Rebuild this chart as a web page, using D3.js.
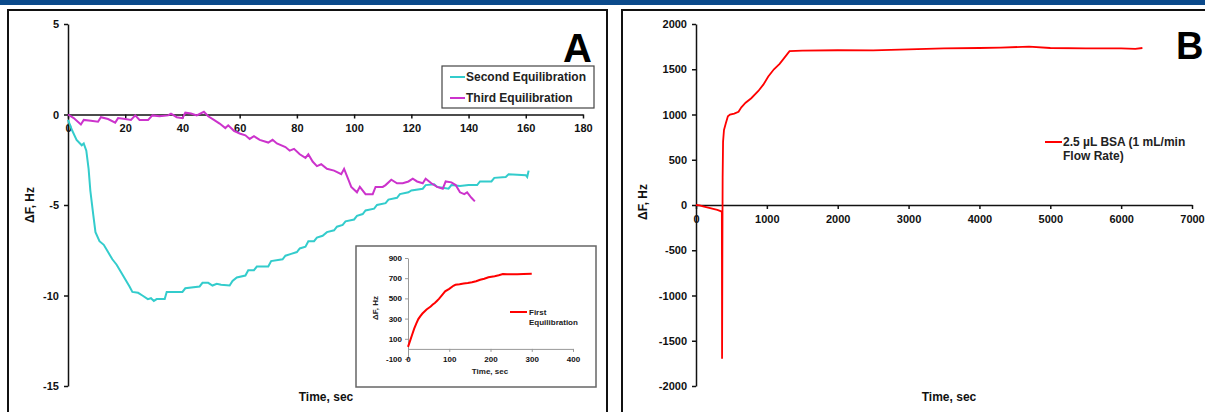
<!DOCTYPE html>
<html>
<head>
<meta charset="utf-8">
<script src="https://cdn.jsdelivr.net/npm/d3@7"></script>
<style>
  body { margin: 0; background: #fff; }
  svg { display: block; font-family: "Liberation Sans", Arial, sans-serif; }
  .axis text { font-size: 11px; font-weight: bold; fill: #111; }
  .axis path, .axis line { stroke: #111; stroke-width: 1.5; }
  .inset text { font-size: 8px; }
  .inset path, .inset line { stroke: #999; stroke-width: 1; }
  .title { font-size: 12px; font-weight: bold; fill: #111; }
  .leg { font-size: 12px; font-weight: bold; fill: #222; }
</style>
</head>
<body>
<svg width="1205" height="412"></svg>
<script>
// panel A - second equilibration (time, sec / delta F, Hz)
const secondT = [0, 1.5, 3, 4.8, 5.5, 6.4, 7.2, 7.8, 8.8, 9.6, 11, 12.5, 14, 15.5, 17, 18.5, 20, 21.5, 22.5, 24.5, 26, 27.9, 29, 30, 31, 33.8, 34.5, 40, 41, 46, 47, 49, 50.5, 52, 53.5, 56.5, 57.5, 59, 62, 63, 65, 66, 70, 71, 75, 76, 78, 80, 81, 83, 84, 86, 87, 89, 90.5, 93, 94, 96, 97, 100, 101, 103, 104, 107, 108, 111, 112, 115, 116, 119, 120, 124, 125, 128, 129, 131, 133, 134, 137, 140, 143, 144, 148, 149, 153, 154, 160, 160.5, 161];
const secondV = [-0.3, -0.9, -1.4, -1.7, -1.6, -2.0, -3.0, -4.2, -5.5, -6.5, -7.0, -7.2, -7.6, -8.0, -8.3, -8.7, -9.1, -9.5, -9.8, -9.85, -10.0, -10.2, -10.15, -10.3, -10.2, -10.2, -9.8, -9.8, -9.6, -9.5, -9.3, -9.3, -9.45, -9.35, -9.4, -9.45, -9.2, -9.0, -8.9, -8.6, -8.6, -8.4, -8.4, -8.1, -8.0, -7.8, -7.7, -7.6, -7.4, -7.3, -7.0, -7.0, -6.8, -6.7, -6.5, -6.4, -6.2, -6.1, -5.9, -5.8, -5.6, -5.5, -5.3, -5.2, -5.0, -4.9, -4.7, -4.6, -4.4, -4.3, -4.2, -4.1, -3.9, -3.85, -4.0, -4.05, -4.1, -3.9, -3.95, -3.9, -3.9, -3.7, -3.7, -3.5, -3.45, -3.3, -3.35, -3.45, -3.1];

// panel A - third equilibration
const thirdT = [0, 2, 4.5, 5.5, 8, 10.5, 11.5, 14, 16.5, 17.5, 20, 22, 23.5, 25, 28, 29.5, 32, 35, 36, 38, 40, 41, 43, 45, 47.5, 49, 51, 53, 55, 56, 58, 60, 62, 63.5, 65, 67, 70, 71.5, 73, 76, 77.5, 79, 81, 83, 84, 85.5, 87, 88.5, 90.5, 93, 95.5, 96.5, 98, 99, 101, 102, 104, 106.5, 107.5, 110, 111, 113, 115, 117, 119, 120.5, 122, 124, 125, 127, 129, 131, 132, 134, 135.5, 137, 138.5, 139.5, 141, 142.2];
const thirdV = [0, -0.2, -0.55, -0.3, -0.35, -0.4, -0.15, -0.25, -0.45, -0.2, -0.25, -0.3, -0.05, -0.3, -0.3, -0.05, -0.1, -0.05, 0.05, -0.15, -0.2, 0.1, 0.05, -0.05, 0.15, -0.1, -0.3, -0.5, -0.75, -0.6, -0.9, -1.05, -1.15, -1.35, -1.2, -1.4, -1.55, -1.4, -1.6, -1.8, -2.0, -1.9, -2.2, -2.4, -2.2, -2.6, -2.85, -2.75, -3.0, -3.1, -3.3, -3.0, -3.6, -4.0, -4.3, -4.0, -4.4, -4.4, -4.0, -4.0, -3.9, -3.6, -3.8, -3.8, -3.7, -3.55, -3.7, -3.8, -3.55, -3.8, -4.0, -4.1, -3.7, -3.75, -3.9, -4.3, -4.4, -4.3, -4.6, -4.8];

// inset - first equilibration
const firstT = [0, 5, 10, 15, 20, 25, 30, 35, 40, 45, 50, 55, 60, 65, 70, 75, 80, 85, 90, 100, 110, 115, 125, 135, 145, 155, 165, 175, 185, 195, 210, 220, 230, 240, 250, 265, 280, 300];
const firstV = [20, 80, 140, 200, 250, 295, 325, 350, 370, 390, 405, 420, 440, 455, 475, 495, 520, 545, 570, 595, 625, 635, 640, 648, 652, 660, 670, 685, 695, 710, 720, 730, 742, 738, 740, 740, 742, 745];

// panel B - BSA run
const bsaT = [0, 50, 100, 200, 300, 355, 365, 367, 368, 372, 376, 382, 395, 420, 450, 480, 540, 600, 640, 700, 780, 880, 950, 1020, 1100, 1180, 1260, 1320, 1500, 2000, 2500, 3000, 3500, 4000, 4300, 4700, 5000, 5500, 6000, 6200, 6300];
const bsaV = [0, -5, -15, -35, -55, -70, -80, -1000, -1700, -600, 300, 700, 830, 900, 980, 1000, 1010, 1030, 1080, 1130, 1180, 1260, 1330, 1420, 1500, 1560, 1640, 1700, 1705, 1710, 1708, 1720, 1730, 1735, 1740, 1750, 1735, 1730, 1730, 1725, 1735];

const aXTicks = [0, 20, 40, 60, 80, 100, 120, 140, 160, 180];
const aYTicks = [5, 0, -5, -10, -15];
const inXTicks = [0, 100, 200, 300, 400];
const inYTicks = [900, 700, 500, 300, 100, -100];
const bXTicks = [0, 1000, 2000, 3000, 4000, 5000, 6000, 7000];
const bYTicks = [2000, 1500, 1000, 500, 0, -500, -1000, -1500, -2000];

const svg = d3.select("svg");
const fmt = d => String(d);

// header bar and panel frames
svg.append("rect").attr("x", 0).attr("y", 0).attr("width", 1205).attr("height", 5).attr("fill", "#0b4a8b");
svg.append("rect").attr("x", 8).attr("y", 10).attr("width", 599).attr("height", 420)
    .attr("fill", "none").attr("stroke", "#111").attr("stroke-width", 2);
svg.append("rect").attr("x", 622).attr("y", 10).attr("width", 620).attr("height", 420)
    .attr("fill", "none").attr("stroke", "#111").attr("stroke-width", 2);

function pts(t, v) { return t.map((d, i) => [d, v[i]]); }

// ---------- panel A ----------
const xA = d3.scaleLinear().domain([0, 180]).range([68, 583]);
const yA = d3.scaleLinear().domain([-15, 5]).range([386, 24]);

svg.append("g").attr("class", "axis")
    .attr("transform", "translate(68,0)")
    .call(d3.axisLeft(yA).tickValues(aYTicks).tickSize(4).tickSizeOuter(0).tickPadding(5).tickFormat(fmt));
svg.append("g").attr("class", "axis")
    .attr("transform", "translate(0," + yA(0) + ")")
    .call(d3.axisBottom(xA).tickValues(aXTicks).tickSize(4).tickSizeOuter(0).tickPadding(6).tickFormat(fmt));

const lineA = d3.line().x(d => xA(d[0])).y(d => yA(d[1]));
svg.append("path").datum(pts(secondT, secondV)).attr("d", lineA)
    .attr("fill", "none").attr("stroke", "#33cccc").attr("stroke-width", 2);
svg.append("path").datum(pts(thirdT, thirdV)).attr("d", lineA)
    .attr("fill", "none").attr("stroke", "#cc33cc").attr("stroke-width", 2);

svg.append("text").attr("class", "title")
    .attr("transform", "translate(34,205) rotate(-90)")
    .attr("text-anchor", "middle").text("ΔF, Hz");
svg.append("text").attr("class", "title")
    .attr("x", 326).attr("y", 401).attr("text-anchor", "middle").text("Time, sec");
svg.append("text").attr("x", 592).attr("y", 62).attr("text-anchor", "end")
    .attr("font-size", 40).attr("font-weight", "bold").attr("fill", "#000").text("A");

// legend A
svg.append("rect").attr("x", 442).attr("y", 66).attr("width", 152).attr("height", 42)
    .attr("fill", "#fff").attr("stroke", "#444").attr("stroke-width", 1.2);
const legA = [["Second Equilibration", "#33cccc", 77], ["Third Equilibration", "#cc33cc", 98]];
legA.forEach(l => {
    svg.append("line").attr("x1", 450).attr("x2", 465).attr("y1", l[2]).attr("y2", l[2])
        .attr("stroke", l[1]).attr("stroke-width", 2);
    svg.append("text").attr("class", "leg").attr("x", 466).attr("y", l[2] + 4).text(l[0]);
});

// inset
svg.append("rect").attr("x", 356).attr("y", 246).attr("width", 240).attr("height", 141)
    .attr("fill", "#fff").attr("stroke", "#666").attr("stroke-width", 1.5);
const xI = d3.scaleLinear().domain([0, 400]).range([408, 573]);
const yI = d3.scaleLinear().domain([-100, 900]).range([359, 258]);
svg.append("g").attr("class", "axis inset")
    .attr("transform", "translate(408,0)")
    .call(d3.axisLeft(yI).tickValues(inYTicks).tickSize(3).tickSizeOuter(0).tickPadding(3).tickFormat(fmt));
svg.append("g").attr("class", "axis inset")
    .attr("transform", "translate(0," + yI(0) + ")")
    .call(d3.axisBottom(xI).tickValues(inXTicks).tickSize(3).tickSizeOuter(0).tickPadding(4).tickFormat(fmt));
svg.append("path").datum(pts(firstT, firstV))
    .attr("d", d3.line().x(d => xI(d[0])).y(d => yI(d[1])))
    .attr("fill", "none").attr("stroke", "#ff0000").attr("stroke-width", 2);
svg.append("text").attr("transform", "translate(378,308) rotate(-90)")
    .attr("text-anchor", "middle").attr("font-size", 8).attr("font-weight", "bold").attr("fill", "#222").text("ΔF, Hz");
svg.append("text").attr("x", 490).attr("y", 374).attr("text-anchor", "middle")
    .attr("font-size", 8).attr("font-weight", "bold").attr("fill", "#222").text("Time, sec");
svg.append("line").attr("x1", 510).attr("x2", 527).attr("y1", 312).attr("y2", 312)
    .attr("stroke", "#ff0000").attr("stroke-width", 2);
svg.append("text").attr("x", 529).attr("y", 315).attr("font-size", 8).attr("font-weight", "bold").attr("fill", "#222").text("First");
svg.append("text").attr("x", 529).attr("y", 325).attr("font-size", 8).attr("font-weight", "bold").attr("fill", "#222").text("Equilibration");

// ---------- panel B ----------
const xB = d3.scaleLinear().domain([0, 7000]).range([696, 1192]);
const yB = d3.scaleLinear().domain([-2000, 2000]).range([386, 24]);

svg.append("g").attr("class", "axis")
    .attr("transform", "translate(696,0)")
    .call(d3.axisLeft(yB).tickValues(bYTicks).tickSize(4).tickSizeOuter(0).tickPadding(5).tickFormat(fmt));
svg.append("g").attr("class", "axis")
    .attr("transform", "translate(0," + yB(0) + ")")
    .call(d3.axisBottom(xB).tickValues(bXTicks).tickSize(4).tickSizeOuter(0).tickPadding(6).tickFormat(fmt));

svg.append("path").datum(pts(bsaT, bsaV))
    .attr("d", d3.line().x(d => xB(d[0])).y(d => yB(d[1])))
    .attr("fill", "none").attr("stroke", "#ff0000").attr("stroke-width", 1.8);

svg.append("text").attr("class", "title")
    .attr("transform", "translate(647,202) rotate(-90)")
    .attr("text-anchor", "middle").text("ΔF, Hz");
svg.append("text").attr("class", "title")
    .attr("x", 949).attr("y", 401).attr("text-anchor", "middle").text("Time, sec");
svg.append("text").attr("x", 1176).attr("y", 59)
    .attr("font-size", 38).attr("font-weight", "bold").attr("fill", "#000").text("B");

svg.append("line").attr("x1", 1045).attr("x2", 1062).attr("y1", 142).attr("y2", 142)
    .attr("stroke", "#ff0000").attr("stroke-width", 2);
svg.append("text").attr("class", "leg").attr("x", 1063).attr("y", 146).text("2.5 µL BSA (1 mL/min");
svg.append("text").attr("class", "leg").attr("x", 1063).attr("y", 160).text("Flow Rate)");
</script>
</body>
</html>
